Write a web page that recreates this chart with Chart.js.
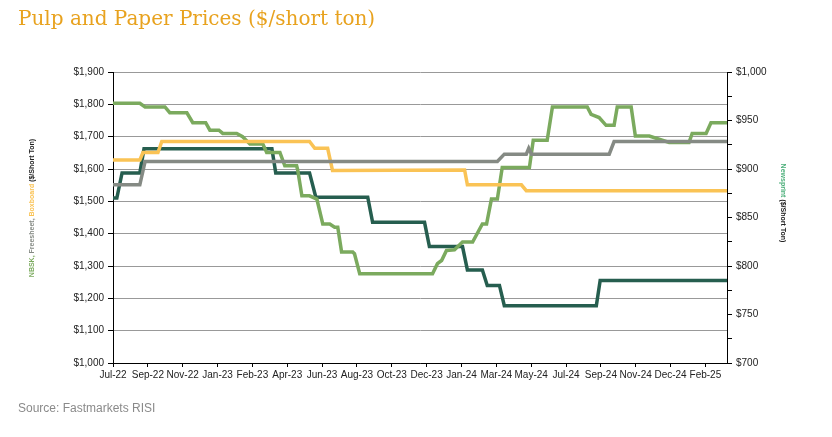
<!DOCTYPE html>
<html>
<head>
<meta charset="utf-8">
<script src="https://cdn.jsdelivr.net/npm/chart.js@4/dist/chart.umd.min.js"></script>
<style>
  body { margin: 0; background: #fff; }
  #wrap { position: relative; width: 832px; height: 437px; }
  #title { position: absolute; left: 18px; top: 6px; font-family: "DejaVu Serif", serif; font-size: 20px; color: #E8A21E; }
  #source { position: absolute; left: 18px; top: 401px; font-family: "Liberation Sans", Arial, sans-serif; font-size: 12px; color: #8a8a8a; }
</style>
</head>
<body>
<div id="wrap">
  <canvas id="chart" width="832" height="437"></canvas>
  <div id="title">Pulp and Paper Prices ($/short ton)</div>
  <div id="source">Source: Fastmarkets RISI</div>
</div>
<script>
// Tick labels (one per tick step on the x axis)
const tickLabels = ['Jul-22','Sep-22','Nov-22','Jan-23','Feb-23','Apr-23','Jun-23','Aug-23','Oct-23','Dec-23','Jan-24','Mar-24','May-24','Jul-24','Sep-24','Nov-24','Dec-24','Feb-25'];

// Series: x in tick steps, y in $/short ton
const nbskX = [0,0.77,0.92,1.49,1.63,2.12,2.29,2.66,2.78,3.04,3.15,3.55,3.72,3.93,4.30,4.41,4.79,4.93,5.27,5.30,5.42,5.64,5.85,6.02,6.22,6.36,6.45,6.56,6.88,6.93,7.08,9.17,9.31,9.43,9.57,9.80,10.03,10.32,10.60,10.72,10.86,11.03,11.17,11.95,12.06,12.46,12.61,13.61,13.72,13.95,14.15,14.38,14.47,14.87,14.99,15.39,15.96,16.53,16.62,17.02,17.16,17.62];
const nbskY = [1803,1803,1792,1792,1774,1774,1743,1743,1720,1720,1710,1710,1700,1677,1677,1651,1651,1610,1610,1597,1517,1517,1507,1430,1430,1420,1420,1343,1343,1338,1276,1276,1307,1317,1348,1350,1374,1374,1430,1430,1507,1507,1605,1605,1689,1689,1792,1792,1769,1759,1735,1735,1792,1792,1702,1702,1682,1682,1710,1710,1743,1743];

const freeX = [0,0.77,0.92,11.03,11.23,11.86,11.93,12.01,14.24,14.38,17.62];
const freeY = [1551,1551,1623,1623,1646,1646,1664,1646,1646,1685,1685];

const boxX = [0,0.77,0.86,1.29,1.40,5.64,5.79,6.16,6.30,10.09,10.17,11.72,11.86,17.62];
const boxY = [1628,1628,1651,1651,1685,1685,1664,1664,1595,1597,1551,1551,1533,1533];

const newsX = [0,0.11,0.26,0.77,0.89,4.56,4.67,5.64,5.82,7.31,7.45,8.94,9.08,10.03,10.17,10.60,10.74,11.09,11.23,13.87,13.98,17.62];
const newsY = [870,870,896,896,921,921,896,896,871,871,845,845,820,820,796,796,780,780,759,759,785,785];

const pts = (xs, ys) => xs.map((x, i) => ({ x: x, y: ys[i] }));
const FONT = '"Liberation Sans", Arial, sans-serif';

// Multi-coloured rotated axis titles
const axisTitles = {
  id: 'axisTitles',
  afterDraw(chart) {
    const ctx = chart.ctx;
    ctx.save();
    ctx.font = 'bold 7px ' + FONT;
    ctx.textBaseline = 'middle';
    // left: bottom-to-top
    const left = [['NBSK, ', '#7BAA5E'], ['Freesheet, ', '#858A84'], ['Boxboard ', '#FAC355'], ['($/Short Ton)', '#222']];
    let total = left.reduce((s, p) => s + ctx.measureText(p[0]).width, 0);
    ctx.translate(32, 208);
    ctx.rotate(-Math.PI / 2);
    let x = -total / 2;
    left.forEach(p => { ctx.fillStyle = p[1]; ctx.fillText(p[0], x, 0); x += ctx.measureText(p[0]).width; });
    ctx.restore();
    ctx.save();
    ctx.font = 'bold 7px ' + FONT;
    ctx.textBaseline = 'middle';
    const right = [['Newsprint ', '#4CAF7A'], ['($/Short Ton)', '#222']];
    total = right.reduce((s, p) => s + ctx.measureText(p[0]).width, 0);
    ctx.translate(783, 203);
    ctx.rotate(Math.PI / 2);
    x = -total / 2;
    right.forEach(p => { ctx.fillStyle = p[1]; ctx.fillText(p[0], x, 0); x += ctx.measureText(p[0]).width; });
    ctx.restore();
  }
};

const ds = (label, data, color, axis) => ({
  label: label, data: data, borderColor: color, backgroundColor: color,
  borderWidth: 3.5, pointRadius: 0, tension: 0, yAxisID: axis
});

new Chart(document.getElementById('chart').getContext('2d'), {
  type: 'line',
  data: {
    datasets: [
      ds('Freesheet', pts(freeX, freeY), '#858A84', 'y'),
      ds('Boxboard', pts(boxX, boxY), '#FAC355', 'y'),
      ds('NBSK', pts(nbskX, nbskY), '#7BAA5E', 'y'),
      ds('Newsprint', pts(newsX, newsY), '#265E4F', 'y2')
    ]
  },
  options: {
    responsive: false,
    animation: false,
    layout: { padding: { top: 72, left: 0, right: 0, bottom: 0 } },
    plugins: { legend: { display: false }, tooltip: { enabled: false } },
    scales: {
      x: {
        type: 'linear', min: 0, max: 17.62,
        afterFit: s => { s.height = 74; },
        afterBuildTicks: s => { s.ticks = tickLabels.map((t, i) => ({ value: i })); },
        ticks: { autoSkip: false, maxRotation: 0, color: '#222', font: { family: FONT, size: 10 }, padding: 2,
          callback: v => tickLabels[v] },
        grid: { drawOnChartArea: false, color: '#000', tickLength: 4 },
        border: { color: '#000', width: 1 }
      },
      y: {
        position: 'left', min: 1000, max: 1900,
        afterFit: s => { s.width = 113; },
        ticks: { stepSize: 100, color: '#222', font: { family: FONT, size: 10 }, padding: 4,
          callback: v => '$' + v.toLocaleString('en-US') },
        grid: { color: '#999', borderDash: [2, 1], tickColor: '#000', tickLength: 5, drawTicks: true },
        border: { color: '#000', width: 1 }
      },
      y2: {
        position: 'right', min: 700, max: 1000,
        afterFit: s => { s.width = 105; },
        ticks: { stepSize: 25, color: '#222', font: { family: FONT, size: 10 }, padding: 4,
          callback: v => v % 50 === 0 ? '$' + v.toLocaleString('en-US') : '' },
        grid: { drawOnChartArea: false, color: '#000', tickLength: 5 },
        border: { color: '#000', width: 1 }
      }
    }
  },
  plugins: [axisTitles]
});
</script>
</body>
</html>
